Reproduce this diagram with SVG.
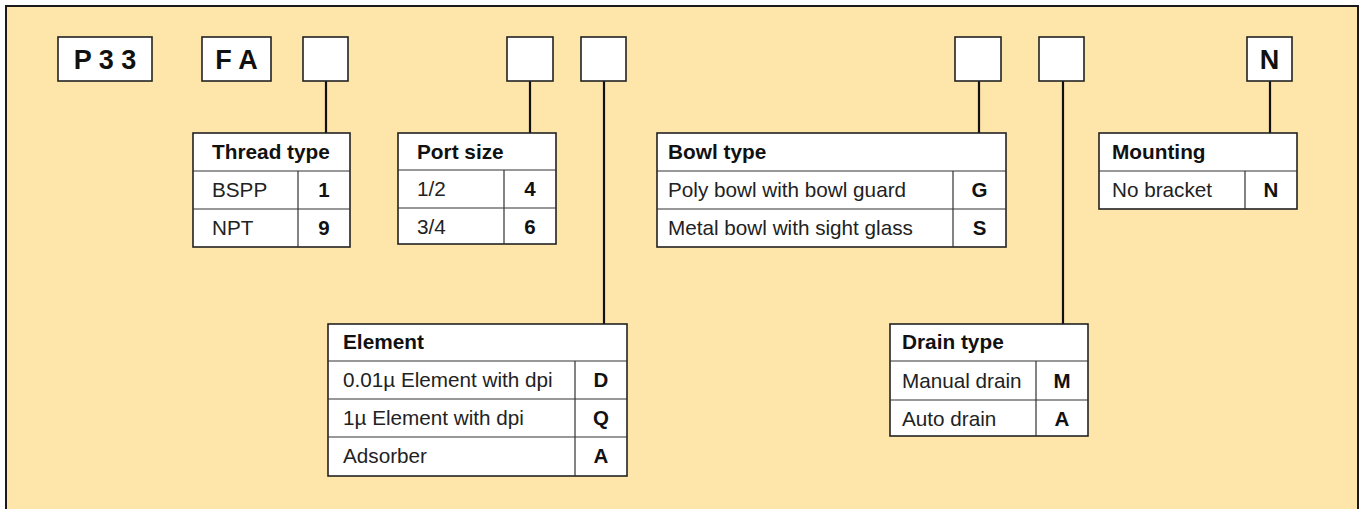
<svg xmlns="http://www.w3.org/2000/svg" width="1360" height="509" viewBox="0 0 1360 509">
<style>
.bg{fill:#FEE5AA;}
.frame{fill:none;stroke:#1a1a1a;stroke-width:2;}
.box{fill:#fff;stroke:#222;stroke-width:1.6;}
.grid{fill:none;stroke:#333;stroke-width:1.2;}
.con{stroke:#111;stroke-width:2.2;fill:none;}
.code{font-family:"Liberation Sans",Arial,sans-serif;font-weight:bold;font-size:27px;fill:#111;text-anchor:middle;}
.hd{font-family:"Liberation Sans",Arial,sans-serif;font-weight:bold;font-size:20.8px;fill:#111;}
.tx{font-family:"Liberation Sans",Arial,sans-serif;font-size:20.7px;fill:#222;}
.cv{font-family:"Liberation Sans",Arial,sans-serif;font-weight:bold;font-size:20.5px;fill:#111;text-anchor:middle;}
</style>
<rect class="bg" x="6" y="6" width="1352" height="503"/>
<path class="frame" d="M6 509V6H1358V509"/>

<g id="connectors">
<line class="con" x1="326" y1="81" x2="326" y2="133"/>
<line class="con" x1="530" y1="81" x2="530" y2="133"/>
<line class="con" x1="604" y1="81" x2="604" y2="324"/>
<line class="con" x1="979" y1="81" x2="979" y2="133"/>
<line class="con" x1="1063" y1="81" x2="1063" y2="324"/>
<line class="con" x1="1270" y1="81" x2="1270" y2="133"/>
</g>

<g id="box-p33">
<rect class="box" x="58" y="37" width="94" height="44"/>
<text class="code" x="105" y="69">P 3 3</text>
</g>
<g id="box-fa">
<rect class="box" x="202" y="37" width="69" height="44"/>
<text class="code" x="236.5" y="69">F A</text>
</g>
<g id="box-thread">
<rect class="box" x="303" y="37" width="45" height="44"/>
</g>
<g id="box-port">
<rect class="box" x="507" y="37" width="46" height="44"/>
</g>
<g id="box-element">
<rect class="box" x="581" y="37" width="45" height="44"/>
</g>
<g id="box-bowl">
<rect class="box" x="955" y="37" width="46" height="44"/>
</g>
<g id="box-drain">
<rect class="box" x="1039" y="37" width="45" height="44"/>
</g>
<g id="box-mounting">
<rect class="box" x="1247" y="37" width="45" height="44"/>
<text class="code" x="1269.5" y="69">N</text>
</g>

<g id="table-thread">
<rect class="box" x="193" y="133" width="157" height="114"/>
<path class="grid" d="M193 171H350M193 209H350M298 171V247"/>
<text class="hd" x="212" y="159">Thread type</text>
<text class="tx" x="212" y="197">BSPP</text>
<text class="cv" x="324" y="197">1</text>
<text class="tx" x="212" y="235">NPT</text>
<text class="cv" x="324" y="235">9</text>
</g>

<g id="table-port">
<rect class="box" x="398" y="133" width="158" height="111"/>
<path class="grid" d="M398 170H556M398 208H556M504 170V244"/>
<text class="hd" x="417" y="159">Port size</text>
<text class="tx" x="417" y="196">1/2</text>
<text class="cv" x="530" y="196">4</text>
<text class="tx" x="417" y="234">3/4</text>
<text class="cv" x="530" y="234">6</text>
</g>

<g id="table-bowl">
<rect class="box" x="657" y="133" width="349" height="114"/>
<path class="grid" d="M657 171H1006M657 209H1006M953 171V247"/>
<text class="hd" x="668" y="159">Bowl type</text>
<text class="tx" x="668" y="197">Poly bowl with bowl guard</text>
<text class="cv" x="979.5" y="197">G</text>
<text class="tx" x="668" y="235">Metal bowl with sight glass</text>
<text class="cv" x="979.5" y="235">S</text>
</g>

<g id="table-mounting">
<rect class="box" x="1099" y="133" width="198" height="76"/>
<path class="grid" d="M1099 171H1297M1245 171V209"/>
<text class="hd" x="1112" y="159">Mounting</text>
<text class="tx" x="1112" y="197">No bracket</text>
<text class="cv" x="1271" y="197">N</text>
</g>

<g id="table-element">
<rect class="box" x="328" y="324" width="299" height="152"/>
<path class="grid" d="M328 361H627M328 399H627M328 437H627M575 361V476"/>
<text class="hd" x="343" y="349">Element</text>
<text class="tx" x="343" y="387">0.01µ Element with dpi</text>
<text class="cv" x="601" y="387">D</text>
<text class="tx" x="343" y="425">1µ Element with dpi</text>
<text class="cv" x="601" y="425">Q</text>
<text class="tx" x="343" y="463">Adsorber</text>
<text class="cv" x="601" y="463">A</text>
</g>

<g id="table-drain">
<rect class="box" x="890" y="324" width="198" height="112"/>
<path class="grid" d="M890 361H1088M890 400H1088M1036 361V436"/>
<text class="hd" x="902" y="349">Drain type</text>
<text class="tx" x="902" y="388">Manual drain</text>
<text class="cv" x="1062" y="388">M</text>
<text class="tx" x="902" y="426">Auto drain</text>
<text class="cv" x="1062" y="426">A</text>
</g>
</svg>
